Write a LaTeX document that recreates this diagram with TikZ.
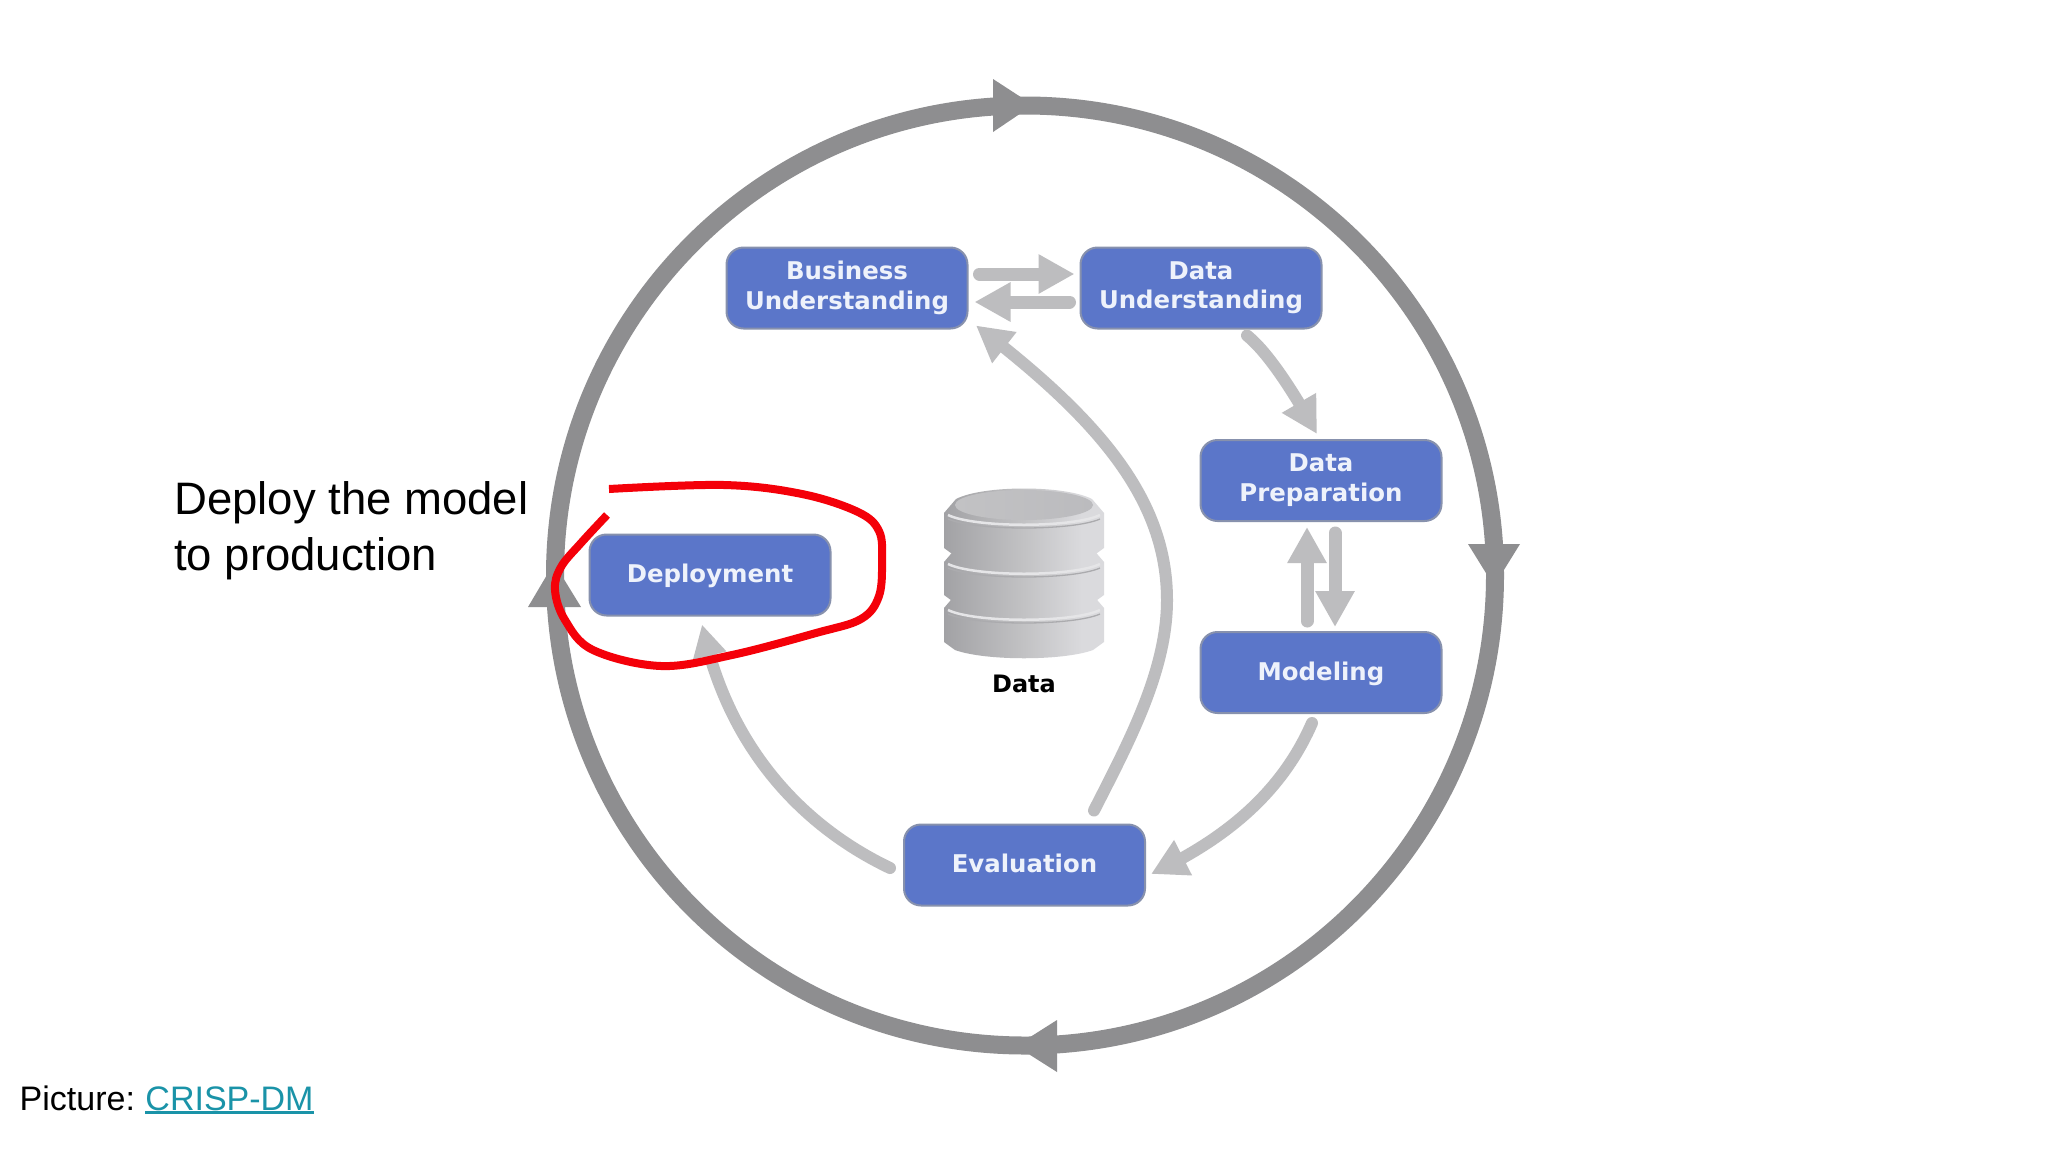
\documentclass[tikz,border=0pt]{standalone}
\usepackage{fontspec}
\setmainfont{Liberation Sans}
\newfontfamily\boxfont{DejaVu Sans}[BoldFont={DejaVu Sans Bold}]
\usetikzlibrary{arrows.meta,bending}
\definecolor{boxfill}{HTML}{5B76C9}
\definecolor{boxedge}{HTML}{8791AD}
\definecolor{ringc}{HTML}{8E8E90}
\definecolor{flowc}{HTML}{BDBDBF}
\definecolor{scribble}{HTML}{F40009}
\definecolor{linkc}{HTML}{1A93A8}
\definecolor{boxtext}{HTML}{EEF2FB}
\definecolor{dba}{HTML}{A2A2A5}
\definecolor{dbb}{HTML}{C2C2C4}
\definecolor{dbc}{HTML}{DADADD}
\definecolor{dbd}{HTML}{BBBBBE}
\definecolor{dbline}{HTML}{ABABAE}
\pgfdeclarehorizontalshading{dbshade}{100bp}{color(0bp)=(dba); color(25bp)=(dba); color(50bp)=(dbb); color(68bp)=(dbc); color(75bp)=(dbc); color(100bp)=(dbd)}
\pgfdeclarehorizontalshading{dbtop}{100bp}{color(0bp)=(dbb); color(25bp)=(dbb); color(75bp)=(dbd); color(100bp)=(dbd)}
\newcommand{\dbdisc}[2]{%
  \path[shading=dbshade] (944,#1) -- (944,#2) -- (955,{#2+8})
    .. controls (985,{#2+19}) and (1063,{#2+19}) .. (1093,{#2+8})
    -- (1104,#2) -- (1104,#1) -- (1092,{#1-14})
    .. controls (1065,{#1-28}) and (983,{#1-28}) .. (956,{#1-14}) -- cycle;
  \draw[draw=dbc!70!white,line width=2.5pt] (948,{#1+2})
    .. controls (975,{#1+15}) and (1073,{#1+15}) .. (1100,{#1+2});
  \draw[draw=dbline,line width=1.3pt] (948,{#1+6})
    .. controls (975,{#1+18}) and (1073,{#1+18}) .. (1100,{#1+6});
}
\tikzset{
  x=1pt,y=-1pt,
  stage/.style={draw=boxedge,fill=boxfill,line width=2pt,rounded corners=17pt,
    minimum width=241pt,minimum height=81pt,inner sep=0pt,align=center,
    text=boxtext,font=\boxfont\bfseries\fontsize{24.4}{29.4}\selectfont,
    execute at begin node={\rule[-5.5pt]{0pt}{26.5pt}}},
  twoline/.style={execute at begin node={\rule[-5.5pt]{0pt}{31.5pt}}},
  ring/.style={draw=ringc,line width=18pt},
  ringhead/.style={fill=ringc},
  flow/.style={draw=flowc,line width=13pt,line cap=round,
    -{Triangle[length=36pt,width=37pt]}},
  curveflow/.style={draw=flowc,line width=12pt,line cap=round,
    -{Triangle[length=36pt,width=37pt]}},
  smallflow/.style={draw=flowc,line width=12pt,line cap=round,
    -{Triangle[length=32pt,width=32pt]}},
  note/.style={anchor=base west,inner sep=0pt,font=\fontsize{45.5}{55}\selectfont},
  source/.style={anchor=base west,inner sep=0pt,font=\fontsize{34}{40}\selectfont},
  pen/.style={draw=scribble,line width=8pt},
}
\begin{document}
\begin{tikzpicture}
\useasboundingbox (0,0) rectangle (2048,1152);
\fill[white] (0,0) rectangle (2048,1152);

% outer cycle
\coordinate (hub) at (1025,575.5);
\draw[ring] (hub) circle[radius=470];
\fill[ringhead] (1033,105) -- (993,79) -- (993,132) -- cycle;
\fill[ringhead] (1494,586) -- (1468,544) -- (1520,544) -- cycle;
\fill[ringhead] (1016,1046) -- (1057,1020) -- (1057,1072) -- cycle;
\fill[ringhead] (554,563) -- (528,607) -- (581,607) -- cycle;

% stages
\node[stage,twoline] (bu) at (847,288) {Business\\Understanding};
\node[stage,twoline] (du) at (1201,288) {Data\\Understanding};
\node[stage,twoline] (dp) at (1321,480.5) {Data\\Preparation};
\node[stage] (mo) at (1321,672.5) {Modeling};
\node[stage] (ev) at (1024.5,865) {Evaluation};
\node[stage] (de) at (710,575) {Deployment};

% flows between stages
\draw[flow] ([shift={(11,-14)}]bu.east) -- ([shift={(-5,-14)}]du.west);
\draw[flow] ([shift={(-10,14)}]du.west) -- ([shift={(6,14)}]bu.east);
\draw[curveflow] ([shift={(46,6)}]du.south) .. controls (1265,350) and (1288,382) .. ([shift={(-4,-5)}]dp.north);
\draw[flow] ([shift={(-14,-10)}]mo.north) -- ([shift={(-14,5)}]dp.south);
\draw[flow] ([shift={(14,11)}]dp.south) -- ([shift={(14,-4)}]mo.north);
\draw[curveflow] ([shift={(-9,9)}]mo.south) .. controls (1285,785) and (1235,835) .. ([shift={(5,9)}]ev.east);
\draw[smallflow] ([shift={(-13,3)}]ev.west) .. controls (800,825) and (727,745) .. ([shift={(-8,8)}]de.south);
\draw[curveflow] ([shift={(69.5,-13)}]ev.north) .. controls (1130,740) and (1167,670) .. (1167,600)
   .. controls (1167,500) and (1100,420) .. ([shift={(129,-4)}]bu.south);

% data cylinder
\dbdisc{608}{642}
\dbdisc{562}{595}
\dbdisc{513}{548}
\path[shading=dbtop] (1024,505) ellipse[x radius=69,y radius=15];
\node[inner sep=0pt,font=\boxfont\bfseries\fontsize{24}{29}\selectfont] (dlabel) at (1024,684) {Data};

% red scribble
\draw[pen] plot[smooth,tension=0.6] coordinates {(609,489) (724,485) (802,494) (858,512) (879,531) (882,560) (879,596) (861,619) (816,633) (732,655) (661,666) (593,650) (565,620) (555,590) (561,567) (581,543) (607,515)};

% texts
\node[note] (n1) at (174,514) {Deploy the model};
\node[note] (n2) at (174,570) {to production};
\node[source] (src) at (19.5,1110) {Picture:\hspace{10.5pt}{\color{linkc}\setbox0\hbox{CRISP-DM}\rlap{\rule[-3.5pt]{\wd0}{2.5pt}}\box0}};
\end{tikzpicture}
\end{document}
